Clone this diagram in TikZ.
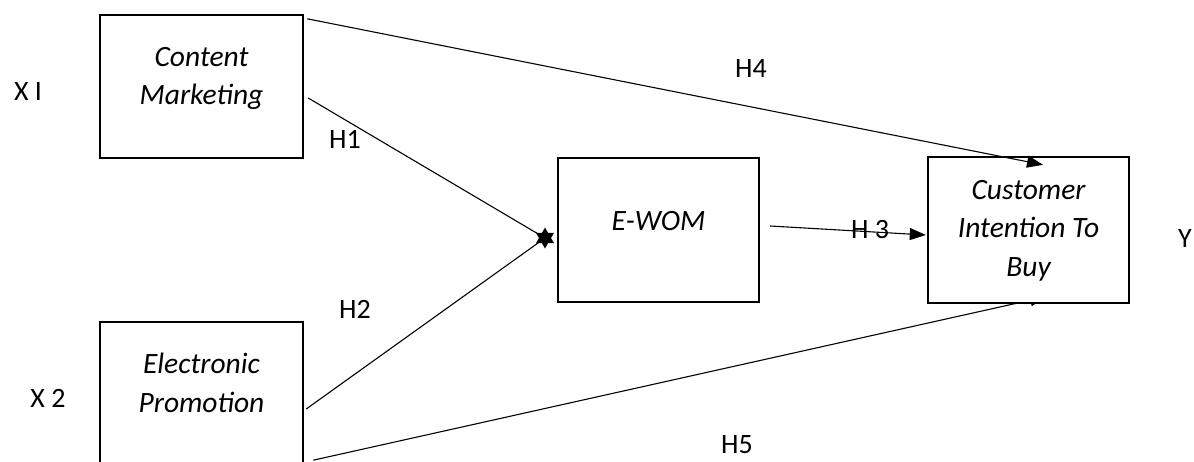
\documentclass[tikz,border=0pt]{standalone}
\usepackage{fontspec}
\setmainfont{Carlito}
\usetikzlibrary{arrows.meta,shapes.geometric,backgrounds}
\begin{document}
\begin{tikzpicture}[x=1pt,y=-1pt,
  box/.style={draw, line width=2.4pt, fill=white, inner sep=0pt, minimum width=#1},
  box/.default=203pt,
  boxtext/.style={inner sep=0pt, align=center, font=\fontsize{29.5}{38.5}\selectfont\itshape},
  lbl/.style={inner sep=0pt, anchor=base, font=\fontsize{28}{33}\selectfont},
  conn/.style={line width=1.1pt},
  arr/.style={conn, -{Triangle[length=16pt,width=12pt]}}]
\useasboundingbox (0,0) rectangle (1194,461);
\clip (0,0) rectangle (1194,461);
% boxes
\node[box, minimum height=143pt] (cm) at (201.5,86.5) {};
\node[box, minimum height=143pt] (ep) at (201.5,393.5) {};
\node[box=201pt, minimum height=144pt] (ew) at (658.5,230) {};
\node[box=201pt, minimum height=146pt] (ci) at (1028.5,230) {};
% box texts
\node[boxtext] (cmt) at (201.5,78.5) {Content\\Marketing};
\node[boxtext] (ept) at (201.5,383) {Electronic\\Promotion};
\node[boxtext, anchor=base] (ewt) at (658.5,230) {E-WOM};
\node[boxtext] (cit) at (1028.5,230.5) {Customer\\Intention To\\Buy};
% junction star
\node[star, star points=6, star point ratio=1.75, fill=black, minimum size=21pt, inner sep=0pt] (j) at (545,238) {};
% H5 (arrowhead mostly hidden under the target box)
\begin{scope}[on background layer]
\draw[arr] ([shift={(9,-6)}]ep.south east) -- ([shift={(17.5,-7.5)}]ci.south);
\end{scope}
% other connectors
\draw[arr] ([shift={(3,5)}]cm.north east) -- ([shift={(14.5,9)}]ci.north);
\draw[conn] ([shift={(4,11.5)}]cm.east) -- (j.center);
\draw[conn] ([shift={(2,15.5)}]ep.east) -- (j.center);
% labels
\node[lbl] (x1) at (28,100) {X I};
\node[lbl] (x2) at (48,407) {X 2};
\node[lbl] (y) at (1185,247) {Y};
\node[lbl] (h1) at (345,148) {H1};
\node[lbl] (h2) at (355,318) {H2};
\node[lbl] (h3) at (870,238) {H 3};
\node[lbl] (h4) at (751,77) {H4};
\node[lbl] (h5) at (737,453) {H5};
\draw[arr] ([shift={(10,-4)}]ew.east) -- ([shift={(-1,5)}]ci.west);
\end{tikzpicture}
\end{document}
